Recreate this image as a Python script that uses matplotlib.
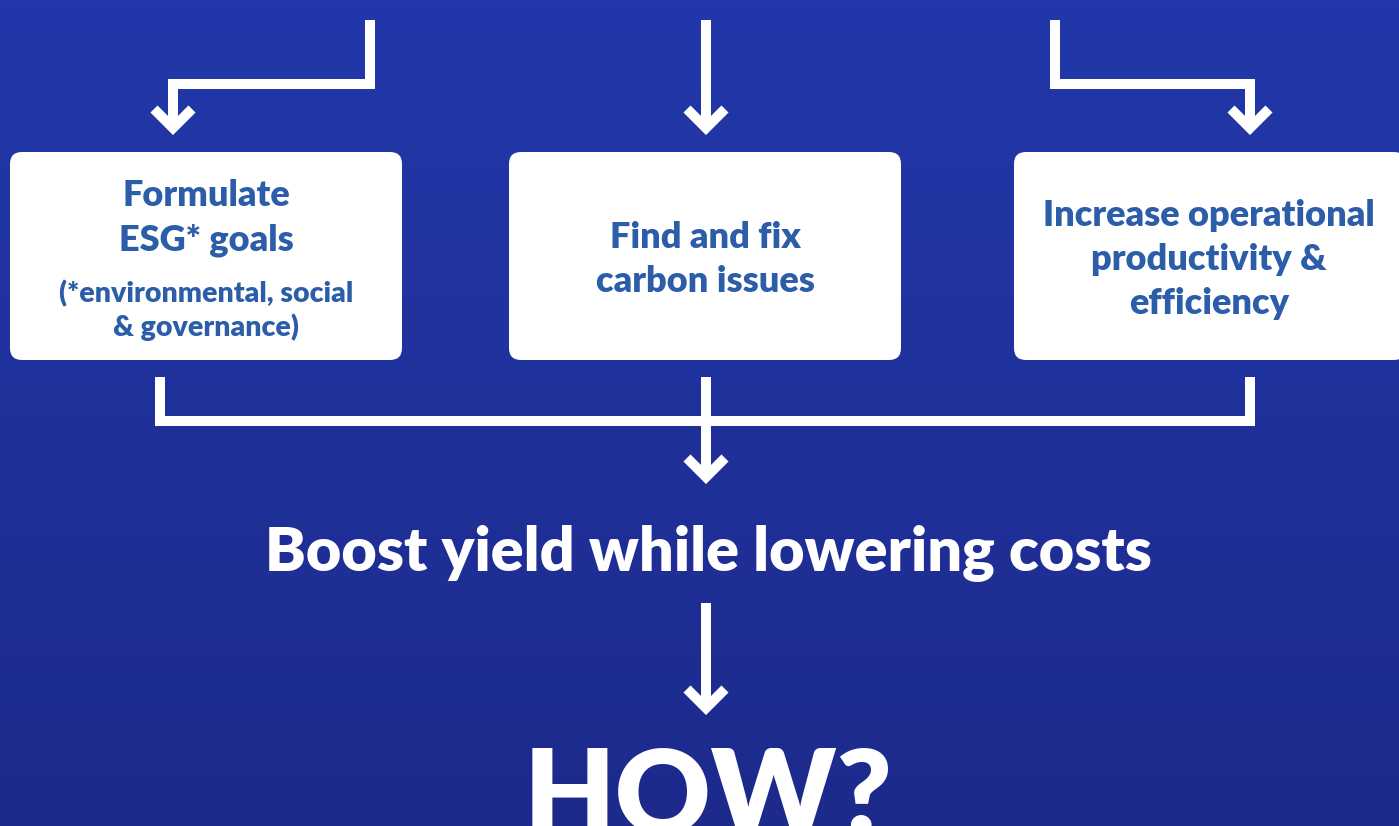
import matplotlib
matplotlib.use("Agg")
import matplotlib.pyplot as plt
import numpy as np
from matplotlib.patches import FancyBboxPatch

# ---- content ----
box_lines = [
    ["Formulate", "ESG* goals"],
    ["Find and fix", "carbon issues"],
    ["Increase operational", "productivity &", "efficiency"],
]
box_notes = [["(*environmental, social", "& governance)"], [], []]
result_text = "Boost yield while lowering costs"
question_text = "HOW?"

# ---- layout (pixel coordinates) ----
W, H = 1399, 826
BOX_X = [10, 509, 1014]
BOX_W = [392, 392, 392]
BOX_Y0, BOX_Y1 = 152, 360
BOX_CX = [206, 705, 1209]
TEXT_Y = [[196, 240], [238, 282], [216, 260, 303]]
NOTE_Y = [[294, 327], [], []]
TEXT_COLOR = "#2B5DA8"
WEIGHT = 800
LW = 10 * 72 / 100  # 10 px line width in points

fig = plt.figure(figsize=(W / 100, H / 100), dpi=100)
ax = fig.add_axes([0, 0, 1, 1])
ax.set_xlim(0, W)
ax.set_ylim(H, 0)
ax.axis("off")

# background gradient
yy, xx = np.mgrid[0:H:2, 0:W:2]
top = np.array([0x22, 0x38, 0xAA]) / 255
bot = np.array([0x1D, 0x2A, 0x8C]) / 255
t = (yy / H)[..., None]
img = top * (1 - t) + bot * t
img = np.clip(img, 0, 1)
ax.imshow(img, extent=[0, W, H, 0], aspect="auto", zorder=0)

def line(xs, ys):
    ax.plot(xs, ys, color="white", lw=LW, solid_capstyle="butt",
            solid_joinstyle="miter", zorder=2)

def chevron(x, tip):
    ax.plot([x - 19, x, x + 19], [tip - 19, tip, tip - 19], color="white",
            lw=LW, solid_capstyle="butt", solid_joinstyle="miter", zorder=3)

# top connectors
line([370, 370, 173, 173], [20, 84, 84, 128])
chevron(173, 128)
line([706, 706], [20, 128])
chevron(706, 128)
line([1055, 1055, 1250, 1250], [20, 84, 84, 128])
chevron(1250, 128)

# boxes
for x0, w, cx, lines, ys, notes, nys in zip(BOX_X, BOX_W, BOX_CX, box_lines,
                                             TEXT_Y, box_notes, NOTE_Y):
    p = FancyBboxPatch((x0 + 12, BOX_Y0 + 12), w - 24, BOX_Y1 - BOX_Y0 - 24,
                       boxstyle="round,pad=12", fc="white", ec="none", zorder=4)
    ax.add_patch(p)
    for s, y in zip(lines, ys):
        ax.text(cx, y, s, ha="center", va="center", fontsize=26,
                fontweight=WEIGHT, family="Lato", color=TEXT_COLOR, zorder=5)
    for s, y in zip(notes, nys):
        ax.text(cx, y, s, ha="center", va="center", fontsize=20.5,
                fontweight=WEIGHT, family="Lato", color=TEXT_COLOR, zorder=5)

# bottom connectors
line([160, 160, 1250, 1250], [377, 421, 421, 377])
line([706, 706], [377, 477])
chevron(706, 477)

ax.text(708, 553, result_text, ha="center", va="center", fontsize=44,
        fontweight=WEIGHT, family="Lato", color="white", zorder=5)

line([706, 706], [603, 708])
chevron(706, 708)

ax.text(708, 746, question_text, ha="center", va="top", fontsize=85,
        fontweight=WEIGHT, family="Lato", color="white", zorder=5)

fig.savefig("out.png", dpi=100)
